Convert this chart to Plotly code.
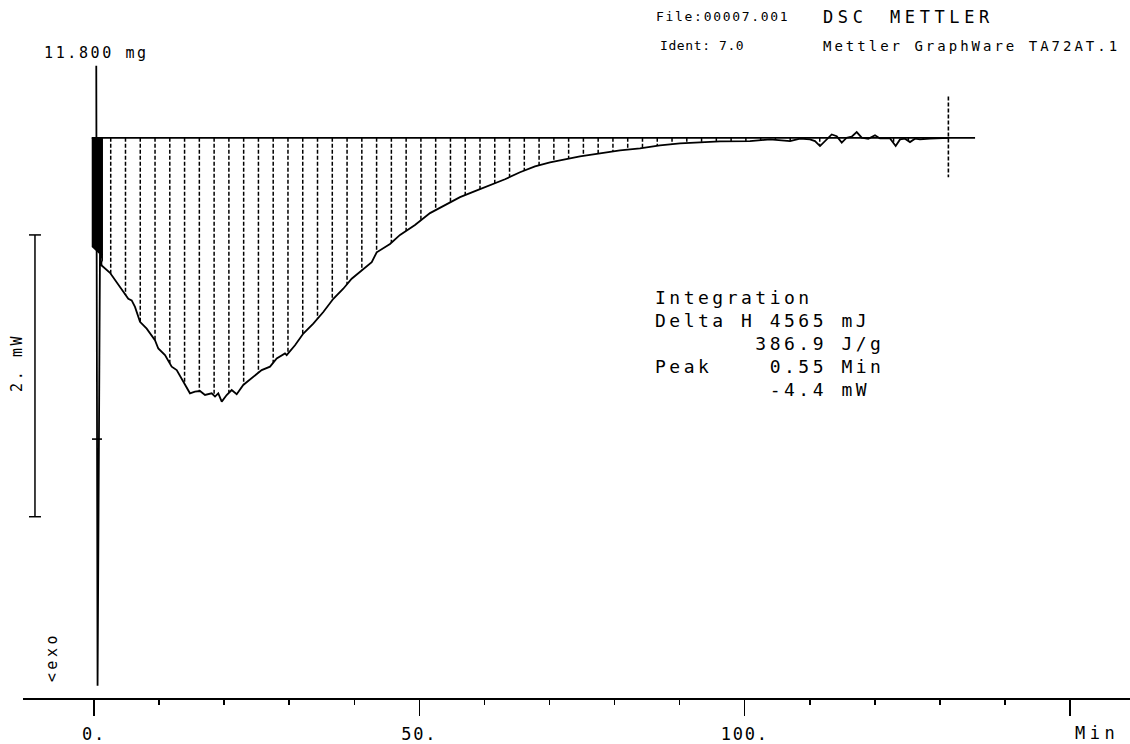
import json
import numpy as np
import plotly.graph_objects as go

# ---------------- data ----------------
time_min = [0.35, 0.55, 0.92, 1.18, 2.46, 3.49, 4.50, 5.27, 5.79, 6.30, 7.07, 8.10, 9.37, 9.88,
            10.91, 11.94, 12.71, 13.72, 14.75, 15.52, 16.29, 17.06, 18.09, 18.60, 19.10, 19.63,
            20.39, 21.16, 21.93, 22.94, 24.48, 25.77, 27.05, 28.08, 29.35, 29.61, 30.89, 32.17,
            33.70, 35.24, 36.78, 38.31, 39.60, 41.39, 42.68, 43.45, 45.49, 47.03, 49.33, 51.64,
            53.94, 56.25, 58.55, 60.86, 63.16, 65.47, 67.77, 70.08, 72.38, 74.69, 77.76, 80.84,
            83.91, 86.98, 90.06, 93.13, 96.20, 100.81, 103.89, 106.96, 108.50, 110.03, 110.80,
            111.57, 112.34, 113.37, 114.14, 114.91, 115.67, 116.44, 117.21, 117.98, 118.99,
            120.02, 120.79, 122.33, 123.20, 123.87, 124.63, 125.40, 126.17, 126.94, 128.48, 131.40]
heat_flow_mw = [0.0, -4.40, -1.336, -1.418, -1.470, -1.536, -1.606, -1.654, -1.666, -1.712, -1.818,
                -1.866, -1.948, -2.007, -2.054, -2.136, -2.160, -2.242, -2.325, -2.313, -2.309,
                -2.337, -2.325, -2.348, -2.325, -2.384, -2.337, -2.302, -2.332, -2.266, -2.207,
                -2.160, -2.136, -2.078, -2.042, -2.054, -1.984, -1.901, -1.830, -1.748, -1.654,
                -1.583, -1.512, -1.442, -1.394, -1.324, -1.265, -1.201, -1.131, -1.046, -0.989,
                -0.933, -0.890, -0.848, -0.806, -0.756, -0.714, -0.686, -0.664, -0.643, -0.622,
                -0.601, -0.587, -0.565, -0.551, -0.544, -0.537, -0.535, -0.523, -0.535, -0.518,
                -0.523, -0.535, -0.570, -0.535, -0.488, -0.500, -0.546, -0.511, -0.504, -0.471,
                -0.511, -0.518, -0.493, -0.516, -0.516, -0.570, -0.523, -0.518, -0.542, -0.518,
                -0.523, -0.518, -0.512]

baseline_mw = -0.512
baseline_span_min = [-0.35, 135.4]
integration_limit_min = 131.3
hatch_first_min = 2.57
hatch_step_min = 2.27

scale_bar_mw = [-1.201, -3.201]      # 2 mW calibration bar
scale_bar_min = -9.07

x_tick_vals = [0, 50, 100, 150]
x_tick_text = ["0.", "50.", "100.", ""]
x_minor_vals = [10, 20, 30, 40, 60, 70, 80, 90, 110, 120, 130, 140]

result_lines = ["Integration",
                "Delta H 4565 mJ",
                "       386.9 J/g",
                "Peak    0.55 Min",
                "        -4.4 mW"]

# ---------------- figure geometry ----------------
W, H = 1130, 744
ML, MR, MT, MB = 23, 0, 0, 43
X_RANGE = [-10.91, 159.21]
Y_RANGE = [-4.4876, 0.4664]


def px(x):
    return (x - ML) / (W - ML - MR)


def py(y):
    return (H - MB - y) / (H - MT - MB)


FONT = "DejaVu Sans Mono"
BLACK = "black"

fig = go.Figure()

t_arr = np.array(time_min)
v_arr = np.array(heat_flow_mw)

# dense (black) start of the integrated area
fig.add_trace(go.Scatter(x=[-0.35, 1.38, 1.38, 0.9, -0.35, -0.35],
                         y=[baseline_mw, baseline_mw, -1.40, -1.34, -1.286, baseline_mw],
                         fill="toself", fillcolor=BLACK, mode="lines",
                         line=dict(width=0, color=BLACK), hoverinfo="skip"))

# hatching of the integrated area
main_t = t_arr[3:]
main_v = v_arr[3:]
hx, hy = [], []
for ht in np.arange(hatch_first_min, integration_limit_min - 1, hatch_step_min):
    cv = float(np.interp(ht, main_t, main_v))
    if cv < baseline_mw - 0.006:
        hx += [ht, ht, None]
        hy += [baseline_mw, cv, None]
fig.add_trace(go.Scatter(x=hx, y=hy, mode="lines",
                         line=dict(color=BLACK, width=1.5, dash="4px,2px"),
                         hoverinfo="skip"))

# baseline
fig.add_trace(go.Scatter(x=baseline_span_min, y=[baseline_mw, baseline_mw], mode="lines",
                         line=dict(color=BLACK, width=1.7), hoverinfo="skip"))

# DSC curve
fig.add_trace(go.Scatter(x=time_min, y=heat_flow_mw, mode="lines",
                         line=dict(color=BLACK, width=1.8), hoverinfo="skip"))

# integration end marker
fig.add_trace(go.Scatter(x=[integration_limit_min, integration_limit_min], y=[-0.219, -0.792],
                         mode="lines", line=dict(color=BLACK, width=1.6, dash="4px,2px"),
                         hoverinfo="skip"))

# peak marker tick
fig.add_trace(go.Scatter(x=[-0.31, 1.23], y=[-2.650, -2.650], mode="lines",
                         line=dict(color=BLACK, width=1.6), hoverinfo="skip"))

# 2 mW scale bar
cap = 0.92
fig.add_trace(go.Scatter(
    x=[scale_bar_min, scale_bar_min, None,
       scale_bar_min - cap, scale_bar_min + cap, None,
       scale_bar_min - cap, scale_bar_min + cap],
    y=[scale_bar_mw[0], scale_bar_mw[1], None,
       scale_bar_mw[0], scale_bar_mw[0], None,
       scale_bar_mw[1], scale_bar_mw[1]],
    mode="lines", line=dict(color=BLACK, width=1.5), hoverinfo="skip"))

# ---------------- texts ----------------
annots = []
spacing = []


def add_text(text, x, y, size, ls, anchor="left", angle=0):
    annots.append(dict(text=text.replace(" ", "\u00a0"), x=px(x), y=py(y),
                       xref="paper", yref="paper", showarrow=False,
                       xanchor=anchor, yanchor="middle", align=anchor if anchor != "middle" else "center",
                       textangle=angle, borderpad=0, borderwidth=0,
                       font=dict(family=FONT, size=size, color=BLACK)))
    spacing.append(ls)


add_text("11.800 mg", 44, 53, 15, 2.6)
add_text("File:00007.001", 656, 17, 13, 1.7)
add_text("Ident: 7.0", 660, 46, 13, 0.6)
add_text("DSC", 823, 17, 17, 4.6)
add_text("METTLER", 890, 17, 17, 4.6)
add_text("Mettler GraphWare TA72AT.1", 823, 46, 14, 3.0)
for i, line in enumerate(result_lines):
    add_text(line, 655, 299 + 23 * i, 18, 3.5)
add_text("Min", 1075, 736, 17, 4.5)

annots.append(dict(text="2.\u00a0mW", x=px(17), y=py(364), xref="paper", yref="paper",
                   showarrow=False, xanchor="center", yanchor="middle", textangle=-90,
                   borderpad=0, borderwidth=0, font=dict(family=FONT, size=15, color=BLACK)))
spacing.append(2.6)
annots.append(dict(text="&lt;exo", x=px(52), y=py(660), xref="paper", yref="paper",
                   showarrow=False, xanchor="center", yanchor="middle", textangle=-90,
                   borderpad=0, borderwidth=0, font=dict(family=FONT, size=15, color=BLACK)))
spacing.append(3.5)

fig.update_layout(
    width=W, height=H,
    margin=dict(l=ML, r=MR, t=MT, b=MB, pad=0),
    paper_bgcolor="white", plot_bgcolor="white",
    showlegend=False,
    annotations=annots,
    xaxis=dict(range=X_RANGE, showline=True, linecolor=BLACK, linewidth=2,
               ticks="outside", ticklen=16, tickwidth=1.5, tickcolor=BLACK,
               tickmode="array", tickvals=x_tick_vals, ticktext=x_tick_text,
               tickfont=dict(family=FONT, size=17, color=BLACK),
               ticklabelstandoff=4,
               showgrid=False, zeroline=False, fixedrange=True,
               minor=dict(tickmode="array", tickvals=x_minor_vals, ticks="outside",
                          ticklen=5, tickwidth=1.5, tickcolor=BLACK, showgrid=False)),
    yaxis=dict(range=Y_RANGE, visible=False, fixedrange=True),
)

post_js = """
var gd = document.getElementById('{plot_id}');
var LS = """ + json.dumps(spacing) + """;
gd.querySelectorAll('g.annotation').forEach(function(g){
  var i = parseInt(g.getAttribute('data-index'));
  var t = g.querySelector('text');
  if (t && LS[i] !== undefined) { t.style.letterSpacing = LS[i] + 'px'; }
});
gd.querySelectorAll('g.xtick text').forEach(function(t){ t.style.letterSpacing = '1.8px'; });
"""

fig.write_html("out.html", config={"displayModeBar": False, "staticPlot": True},
               post_script=post_js)
